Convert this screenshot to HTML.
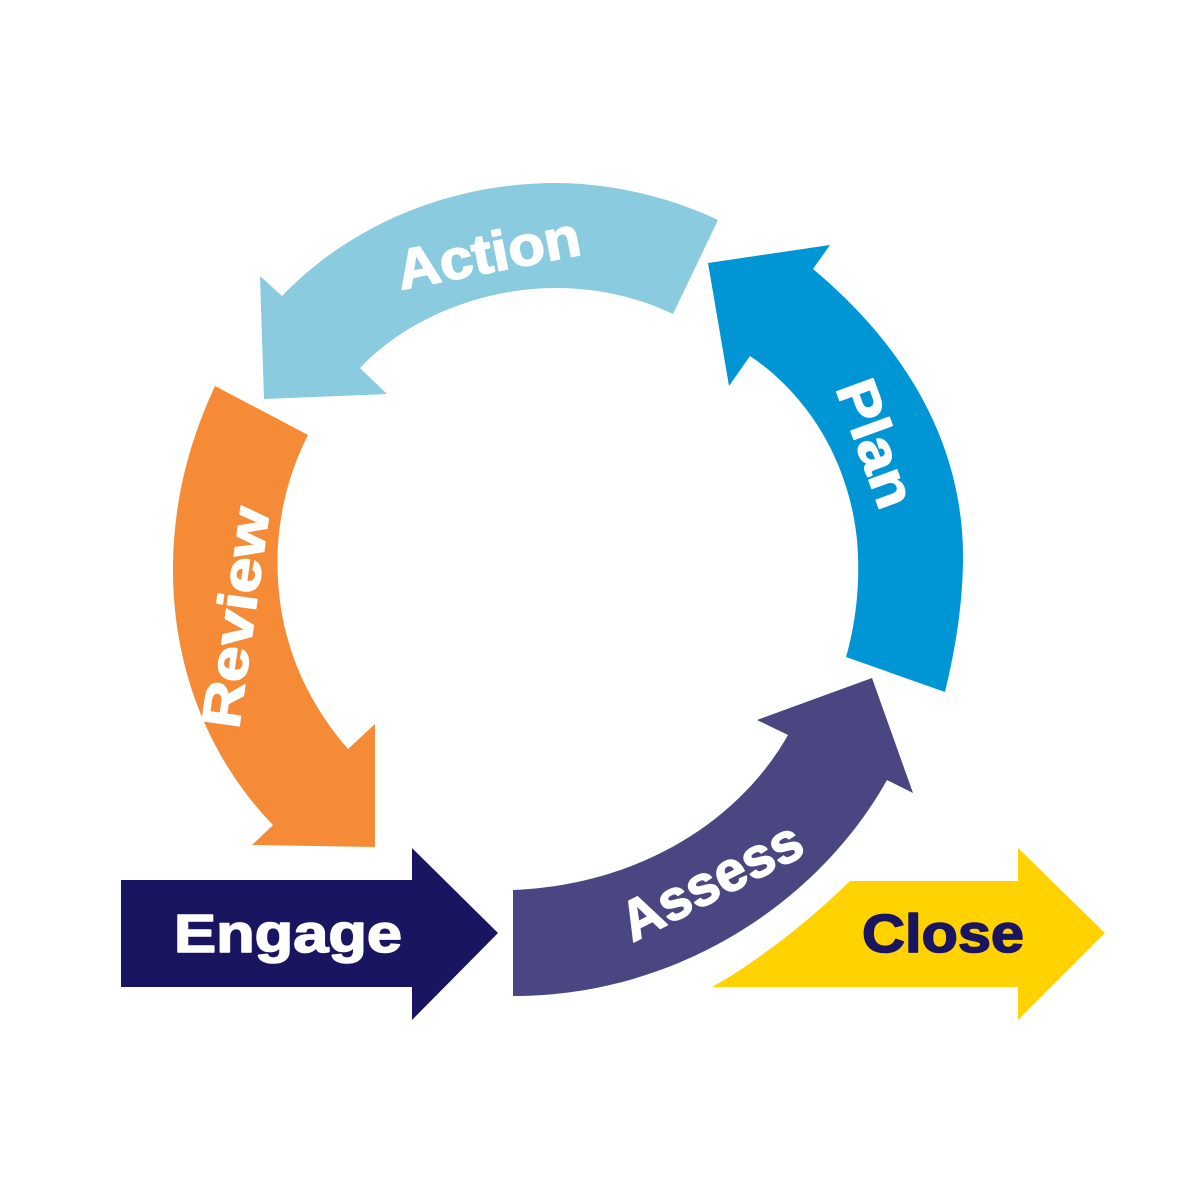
<!DOCTYPE html>
<html><head><style>html,body{margin:0;padding:0;background:#fff}svg{display:block}</style></head>
<body>
<svg width="1200" height="1200" viewBox="0 0 1200 1200" xmlns="http://www.w3.org/2000/svg" font-family="Liberation Sans, sans-serif" font-weight="bold">
<rect width="1200" height="1200" fill="#fff"/>
<path d="M260,276 L282,296 C350,225 450,183 556,183 C610,183 670,197 718,220 L673,314 C635,296 595,288 556,288 C480,288 405,320 360,368 L387,394 L264,399 Z" fill="#8ACBE0"/>
<path d="M708,263 L830,245 L813,269 C910,350 965,450 963,563 C962,610 955,650 945,692 L846,657 C858,615 860,575 857,540 C850,470 815,400 750,356 L729,386 Z" fill="#0096D6"/>
<path d="M215,386 L308,435 C285,480 275,530 278,580 C282,650 310,705 348,749 L375,724 L375,847 L252,845 L273,825 C210,760 173,670 173,570 C173,500 190,440 215,386 Z" fill="#F58B36"/>
<path d="M513,890 C640,885 740,820 788,735 L757,720 L872,678 L913,793 L887,780 C820,900 680,996 513,996 Z" fill="#4A4681"/>
<path d="M712,987 C760,960 810,920 850,881 L1018,881 L1018,848 L1105,933 L1018,1020 L1018,987 Z" fill="#FFD200"/>
<path d="M121,880 L412,880 L412,848 L498,933 L412,1020 L412,987 L121,987 Z" fill="#1A1560"/>

<g stroke-width="1.6" stroke-linejoin="round">
<text x="288" y="952" font-size="54" fill="#fff" stroke="#fff" text-anchor="middle" textLength="228" lengthAdjust="spacingAndGlyphs">Engage</text>
<text x="943" y="952" font-size="54" fill="#1A1560" stroke="#1A1560" text-anchor="middle" textLength="162" lengthAdjust="spacingAndGlyphs">Close</text>
<text transform="translate(492,272) rotate(-11)" font-size="56" fill="#fff" stroke="#fff" text-anchor="middle" textLength="186" lengthAdjust="spacingAndGlyphs">Action</text>
<text transform="translate(858,450) rotate(70)" font-size="56" fill="#fff" stroke="#fff" text-anchor="middle" textLength="132" lengthAdjust="spacingAndGlyphs">Plan</text>
<text transform="translate(254,620) rotate(-82)" font-size="54" fill="#fff" stroke="#fff" text-anchor="middle" textLength="222" lengthAdjust="spacingAndGlyphs">Review</text>
<text transform="translate(720,898) rotate(-27)" font-size="56" fill="#fff" stroke="#fff" text-anchor="middle" textLength="196" lengthAdjust="spacingAndGlyphs">Assess</text>
</g>
</svg>
</body></html>
